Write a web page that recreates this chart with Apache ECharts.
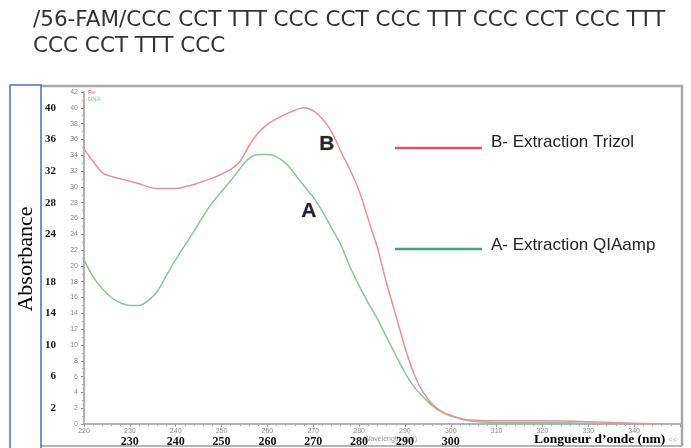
<!DOCTYPE html>
<html><head><meta charset="utf-8">
<script src="https://cdn.jsdelivr.net/npm/echarts@6/dist/echarts.min.js"></script>
<style>html,body{margin:0;padding:0;background:#fff}#c{width:691px;height:448px}</style>
</head><body><div id="c"></div>
<script>
// ---- data ----
const titleLines = ['/56-FAM/CCC CCT TTT CCC CCT CCC TTT CCC CCT CCC TTT', 'CCC CCT TTT CCC'];
const seriesNames = ['B- Extraction Trizol', 'A- Extraction QIAamp'];
const trizolWavelength = [220,222,224,226,228,230,232,234,236,238,240,242,244,246,248,250,252,254,256,258,260,262,264,266,268,270,272,274,276,278,280,282,284,286,288,290,292,294,296,298,300,304,310,320,330,340,345];
const trizolAbs = [34.8,33.2,31.8,31.3,31.0,30.7,30.4,30.0,29.8,29.8,29.8,30.0,30.3,30.7,31.1,31.6,32.2,33.2,35.2,36.8,37.9,38.6,39.2,39.7,40.0,39.6,38.6,37.0,34.5,32.2,29.5,25.9,22.3,17.8,13.8,9.7,6.3,4.0,2.5,1.6,1.1,0.5,0.4,0.4,0.3,0.1,0.0];
const qiaWavelength = [220,222,224,226,228,230,232,234,236,238,240,242,244,246,248,250,252,254,256,258,260,262,264,266,268,270,272,274,276,278,280,282,284,286,288,290,292,294,296,298,300,304,310,320,330,340];
const qiaAbs = [20.8,18.6,17.1,16.0,15.3,15.0,15.0,15.6,16.8,18.8,20.8,22.6,24.4,26.3,28.0,29.4,30.8,32.3,33.6,34.1,34.1,33.8,33.0,31.6,30.1,28.7,26.9,24.8,22.7,19.9,17.5,15.3,13.3,11.0,8.7,6.5,4.7,3.4,2.3,1.5,1.0,0.4,0.2,0.2,0.1,0.0];
const boldYTicks = [40,36,32,28,24,18,14,10,6,2];
const boldXTicks = [230,240,250,260,270,280,290,300];
const yAxisTitle = 'Absorbance';
const xAxisTitle = 'Longueur d\u2019onde (nm)';
const instrumentLegend = ['Re', 'DNA'];
const instrumentXTitle = 'Wavelength (nm)';
const pointLabels = ['B', 'A'];

const zip = (xs, ys) => xs.map((x, i) => [x, ys[i]]);
const chart = echarts.init(document.getElementById('c'), null, {renderer: 'canvas'});
const serif = '"Liberation Serif", "Times New Roman", serif';
const sans = '"Liberation Sans", Arial, sans-serif';
const smallLbl = {fontSize: 7, color: '#8a8a8a', fontFamily: sans};

chart.setOption({
  animation: false,
  backgroundColor: '#fff',
  grid: {left: 84, right: 11, top: 92, bottom: 22},
  xAxis: [
    {type: 'value', min: 220, max: 350, interval: 10,
     axisLine: {show: true, lineStyle: {color: '#9a9a9a', width: 1.5}},
     axisTick: {show: true, length: 3, lineStyle: {color: '#9a9a9a'}},
     minorTick: {show: true, splitNumber: 5, length: 2, lineStyle: {color: '#aaa'}},
     splitLine: {show: false},
     axisLabel: Object.assign({margin: 4, formatter: v => v === 350 ? '' : String(v)}, smallLbl)},
    {type: 'value', min: 220, max: 350, interval: 10, position: 'bottom',
     axisLine: {show: false}, axisTick: {show: false}, splitLine: {show: false},
     axisLabel: {margin: 12, fontSize: 12, fontWeight: 'bold', color: '#111', fontFamily: serif,
       formatter: v => boldXTicks.includes(v) ? String(v) : ''}}
  ],
  yAxis: [
    {type: 'value', min: 0, max: 42, interval: 2,
     axisLine: {show: true, lineStyle: {color: '#9a9a9a', width: 1.5}},
     axisTick: {show: true, length: 3, lineStyle: {color: '#9a9a9a'}},
     minorTick: {show: true, splitNumber: 2, length: 2, lineStyle: {color: '#aaa'}},
     splitLine: {show: false},
     axisLabel: Object.assign({margin: 6}, smallLbl)},
    {type: 'value', min: 0, max: 42, interval: 2, position: 'left',
     axisLine: {show: false}, axisTick: {show: false}, splitLine: {show: false},
     axisLabel: {margin: 28, fontSize: 11, fontWeight: 'bold', color: '#111', fontFamily: serif,
       formatter: v => boldYTicks.includes(v) ? String(v) : ''}}
  ],
  series: [
    {name: seriesNames[0], type: 'line', data: zip(trizolWavelength, trizolAbs), smooth: 0.3,
     showSymbol: false, lineStyle: {color: '#e3939a', width: 1.5}, itemStyle: {color: '#e3939a'}, z: 3},
    {name: seriesNames[1], type: 'line', data: zip(qiaWavelength, qiaAbs), smooth: 0.3,
     showSymbol: false, lineStyle: {color: '#8cc49c', width: 1.5}, itemStyle: {color: '#8cc49c'}, z: 2}
  ],
  graphic: [
    {type: 'text', left: 33, top: 9, style: {text: titleLines[0], fontSize: 21.5, fill: '#333', fontFamily: '"DejaVu Sans", sans-serif'}},
    {type: 'text', left: 33, top: 35, style: {text: titleLines[1], fontSize: 21.5, fill: '#333', fontFamily: '"DejaVu Sans", sans-serif'}},
    // frame
    {type: 'polyline', shape: {points: [[41, 86], [682, 86], [682, 446]]}, style: {stroke: '#a8a8a8', lineWidth: 2.5, fill: null}, z: 1},
    {type: 'line', shape: {x1: 41, y1: 446, x2: 682, y2: 446}, style: {stroke: '#b5b5b5', lineWidth: 2}},
    // blue box
    {type: 'rect', shape: {x: 10, y: 85, width: 31, height: 370}, style: {stroke: '#4a6fb5', lineWidth: 1.5, fill: '#fff'}, z: 5},
    {type: 'text', x: 26, y: 259, rotation: Math.PI / 2, z: 6,
     style: {text: yAxisTitle, fontSize: 22, fill: '#000', fontFamily: serif, align: 'center', verticalAlign: 'middle'}},
    // instrument tiny legend
    {type: 'text', left: 88, top: 89, style: {text: instrumentLegend[0], fontSize: 6, fill: '#e07b84', fontFamily: sans}},
    {type: 'text', left: 88, top: 96, style: {text: instrumentLegend[1], fontSize: 6, fill: '#7fc18f', fontFamily: sans}},
    {type: 'text', left: 364, top: 436, style: {text: instrumentXTitle, fontSize: 7, fill: '#9a9a9a', fontFamily: sans}},
    // x title
    {type: 'text', left: 534, top: 433, z: 6, style: {text: xAxisTitle, fontSize: 13.5, fontWeight: 'bold', fill: '#000', fontFamily: serif}},
    {type: 'text', left: 668, top: 436, style: {text: '<<', fontSize: 8, fill: '#aab', fontFamily: sans}},
    // legend
    {type: 'line', shape: {x1: 395, y1: 148, x2: 482, y2: 148}, style: {stroke: '#d9575c', lineWidth: 2.5}},
    {type: 'text', left: 491, top: 134, style: {text: seriesNames[0], fontSize: 17, fill: '#222', fontFamily: sans}},
    {type: 'line', shape: {x1: 395, y1: 249, x2: 482, y2: 249}, style: {stroke: '#3fa877', lineWidth: 2.5}},
    {type: 'text', left: 491, top: 237, style: {text: seriesNames[1], fontSize: 17, fill: '#222', fontFamily: sans}},
    // A / B labels
    {type: 'text', left: 319, top: 133, style: {text: pointLabels[0], fontSize: 21, fontWeight: 'bold', fill: '#1d2440', fontFamily: sans, stroke: '#f0a040', lineWidth: 0.5}},
    {type: 'text', left: 301, top: 200, style: {text: pointLabels[1], fontSize: 21, fontWeight: 'bold', fill: '#1d2440', fontFamily: sans, stroke: '#f0a040', lineWidth: 0.5}}
  ]
});
</script></body></html>
